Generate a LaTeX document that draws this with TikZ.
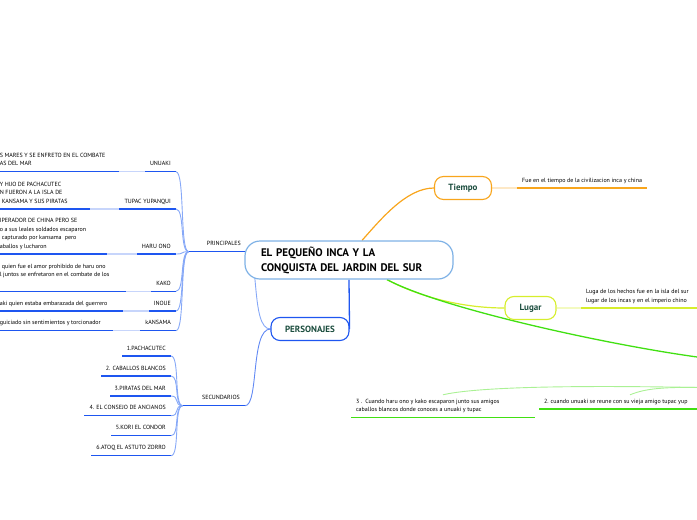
\documentclass[tikz,border=0pt]{standalone}
\usepackage{fontspec}
\setmainfont{PT Sans}
\usetikzlibrary{calc, backgrounds}
\definecolor{skyline}{HTML}{7FB2E6}
\definecolor{inkgreen}{HTML}{1B4D3E}
\definecolor{royal}{HTML}{1E56F0}
\definecolor{softblue}{HTML}{86A8F7}
\definecolor{amber}{HTML}{F8A51C}
\definecolor{lime}{HTML}{D6EE2C}
\definecolor{leaf}{HTML}{41E012}
% multi-line block, bottom line on the node baseline
\newcommand{\txtblock}[2]{\parbox[b]{#1}{\raggedright #2}}

\begin{document}
\begin{tikzpicture}[x=1pt, y=-1pt,
  topic/.style={draw=#1, line width=1.1pt, rounded corners=9pt, fill=white,
    text=inkgreen, font=\fontsize{9}{10}\selectfont\bfseries, minimum height=23pt},
  small/.style={font=\fontsize{6}{8.5}\selectfont, inner xsep=5pt, inner ysep=4pt, text depth=1.7pt},
  desc/.style={small},
  lbl/.style={small, anchor=south east},
  uline/.style={fill=#1},
  fadeline/.style={draw=#1, line width=1.4pt},
  branch/.style={draw=#1, line width=0.9pt}]

\useasboundingbox (0,0) rectangle (697,520);

% --- title and topics ---
\node[draw=skyline, line width=1.2pt, rounded corners=15pt, fill=white, minimum height=38pt,
  text width=176pt, inner xsep=16pt, align=left,
  font=\fontsize{11}{15}\selectfont\bfseries] (inca) at (349,260)
  {EL PEQUEÑO INCA Y LA\\CONQUISTA DEL JARDIN DEL SUR};

\node[topic=amber, minimum width=57pt] (tiempo) at (463,188) {Tiempo};
\node[topic=lime, minimum width=51pt] (lugar) at (530.5,308) {Lugar};
\node[topic=royal, minimum width=78pt] (personajes) at (310,329) {PERSONAJES};

% green topic lies past the right edge
\coordinate (hechostop) at (722,360);
\coordinate (hechosfoot) at (722,388);

% --- right side: texts ---
\node[desc, anchor=south west] (tiempotxt) at (517,188)
  {Fue en el tiempo de la civilizacion inca y china};
\node[desc, anchor=south west] (lugartxt) at (581,308)
  {\txtblock{130pt}{Luga de los hechos fue en la isla del sur\\lugar de los incas y en el imperio chino}};
\node[desc, anchor=north] (paso2) at (630,394.8)
  {\txtblock{172pt}{2. cuando unuaki se reune con su vieja amigo tupac yup}};
\node[desc, anchor=north] (paso3) at (443,394.8)
  {\txtblock{174pt}{3 .\ \ Cuando haru ono y kako escaparon junto sus amigos\\caballos blancos donde conoces a unuaki y tupac}};

% --- left side: texts ---
\node[lbl] (principales) at (246,251.7) {\txtblock{47pt}{\hfill PRINCIPALES}};
\node[lbl] (secundarios) at (245,405.7) {\txtblock{52pt}{\hfill SECUNDARIOS}};

\node[lbl] (unuaki) at (176,171.7) {UNUAKI};
\node[lbl] (tupac) at (176,209) {TUPAC YUPANQUI};
\node[lbl] (haru) at (176,254) {HARU ONO};
\node[lbl] (kako) at (176,291.3) {KAKO};
\node[lbl] (inoue) at (176,311) {INOUE};
\node[lbl] (kansama) at (176,330.7) {kANSAMA};

\node[desc, anchor=south east] (unuakitxt) at (119,171.7)
  {\txtblock{114pt}{S MARES Y SE ENFRETO EN EL COMBATE\\AS DEL MAR}};
\node[desc, anchor=south east] (tupactxt) at (90,209)
  {\txtblock{85pt}{Y HIJO DE PACHACUTEC\\N FUERON A LA ISLA DE\\\hspace*{2pt}KANSAMA Y SUS PIRATAS}};
\node[desc, anchor=south east] (harutxt) at (107,254)
  {\txtblock{102pt}{IPERADOR DE CHINA PERO SE\\o a sus leales soldados escaparon\\\hspace*{2pt}capturado por kansama\ \ pero\\aballos y lucharon}};
\node[desc, anchor=south east] (kakotxt) at (126,291.3)
  {\txtblock{121pt}{\hspace*{2pt}quien fue el amor prohibido de haru ono\\l juntos se enfretaron en el combate de los\\\mbox{}}};
\node[desc, anchor=south east] (inouetxt) at (123,311)
  {\txtblock{118pt}{aki quien estaba embarazada del guerrero}};
\node[desc, anchor=south east] (kansamatxt) at (113,330.7)
  {\txtblock{108pt}{guiciado sin sentimientos y torcionador}};

\node[lbl] (pacha) at (171,356) {1.PACHACUTEC};
\node[lbl] (caballos) at (171,376) {2. CABALLOS BLANCOS};
\node[lbl] (piratas) at (171,396) {3.PIRATAS DEL MAR};
\node[lbl] (consejo) at (171,415.7) {4. EL CONSEJO DE ANCIANOS};
\node[lbl] (kori) at (171,435.7) {5.KORI EL CONDOR};
\node[lbl] (atoq) at (171,455.7) {6.ATOQ EL ASTUTO ZORRO};

\begin{scope}[on background layer]
% --- underlines ---
\foreach \n/\col in {tiempotxt/amber, lugartxt/lime, paso2/leaf, paso3/leaf,
    principales/royal, secundarios/royal,
    unuaki/royal, tupac/royal, haru/royal, kako/royal, inoue/royal, kansama/royal,
    unuakitxt/royal, tupactxt/royal, harutxt/royal, kakotxt/royal, inouetxt/royal, kansamatxt/royal,
    pacha/royal, caballos/royal, piratas/royal, consejo/royal, kori/royal, atoq/royal}
  \path[uline=\col] ($(\n.south west)+(0,-0.7)$) rectangle ($(\n.south east)+(0,0.7)$);

% --- connectors ---
\draw[fadeline=amber!25] (tiempo.east) -- (tiempotxt.south west);
\draw[fadeline=lime!30] (lugar.east) -- (lugartxt.south west);
\foreach \kid in {unuaki,tupac,haru,kako,inoue,kansama}
  \draw[fadeline=royal!25] (\kid txt.south east) -- (\kid.south west);

\foreach \kid in {unuaki,tupac,haru,kako,inoue,kansama}
  \draw[branch=softblue] (principales.south west) .. controls +(-9,0) and +(9,0) .. (\kid.south east);
\foreach \kid in {pacha,caballos,piratas,consejo,kori,atoq}
  \draw[branch=softblue] (secundarios.south west) .. controls +(-9,0) and +(9,0) .. (\kid.south east);

\draw[branch=softblue] (personajes.west) .. controls +(-20,0) and +(14,0) .. (principales.south east);
\draw[branch=royal!70] (personajes.west) .. controls +(-20,0) and +(14,0) .. (secundarios.south east);

\draw[leaf!45, line width=0.9pt] (hechosfoot) .. controls +(-60,-2) and +(15,-6) .. (paso2.north);
\draw[leaf!45, line width=0.9pt] (hechosfoot) .. controls +(-180,-4) and +(25,-6) .. (paso3.north);

% main branches from the title
\draw[royal, line width=1.3pt] (inca.south) -- (personajes.east);
\draw[amber, line width=1.2pt] ($(inca.north)+(13,0)$) .. controls +(18,-20) and +(-28,0) .. (tiempo.west);
\draw[lime, line width=1.2pt] ($(inca.south)+(38,0)$) .. controls +(30,16) and +(-45,0) .. (lugar.west);
\draw[leaf, line width=1.3pt] ($(inca.south)+(38,0)$) .. controls +(60,32) and +(-80,-8) .. (hechostop);
\end{scope}

\end{tikzpicture}
\end{document}
